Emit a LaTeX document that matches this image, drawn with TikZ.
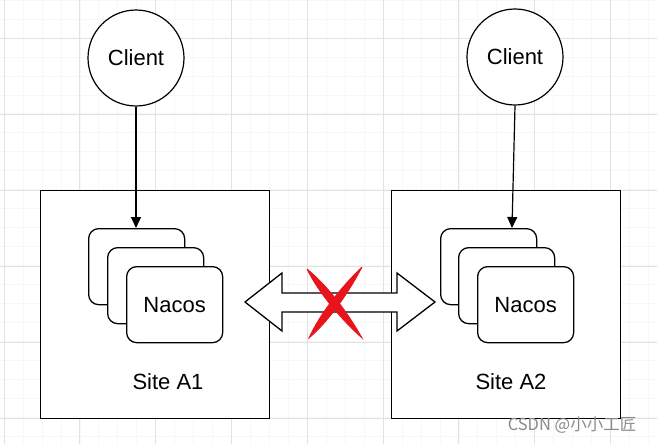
\documentclass[tikz,border=0pt]{standalone}
\usepackage{fontspec}
\setmainfont{Liberation Sans}
\newfontfamily\cjk{Noto Sans CJK SC}
\usetikzlibrary{arrows.meta,calc}
\definecolor{gridmajor}{HTML}{E2E2E2}
\definecolor{gridminor}{HTML}{F7F7F7}
\definecolor{xred}{HTML}{E8141C}
\definecolor{wmark}{HTML}{8A8A8A}
\tikzset{
  client/.style={circle,draw,line width=1.2pt,fill=white,minimum size=96pt,inner sep=0pt,font=\fontsize{22}{24}\selectfont},
  site/.style={draw,line width=1.4pt,fill=white,minimum width=229pt,minimum height=228pt,inner sep=0pt,anchor=north west},
  card/.style={draw,line width=1.3pt,fill=white,rounded corners=10pt,minimum width=96pt,minimum height=76pt,inner sep=0pt,anchor=north west,font=\fontsize{22}{24}\selectfont},
  label/.style={font=\fontsize{22}{24}\selectfont,inner sep=0pt},
  link/.style={line width=1.2pt,-{Triangle[length=11pt,width=10pt]}},
  blockarrow/.style={draw,line width=1.3pt,fill=white,line join=miter},
  cross/.style={fill=xred,draw=xred,line width=0.8pt}
}
\begin{document}
\begin{tikzpicture}[x=1pt,y=-1pt]
\useasboundingbox (0,0) rectangle (657,444);
\fill[white] (0,0) rectangle (657,444);
% grid
\foreach \i in {-9,...,34} {
  \draw[gridminor,line width=0.6pt] ({4+18.95*\i},0) -- ({4+18.95*\i},444);
}
\foreach \j in {-2,...,22} {
  \draw[gridminor,line width=0.6pt] (0,{38+18.95*\j}) -- (657,{38+18.95*\j});
}
\foreach \i in {0,...,8} {
  \draw[gridmajor,line width=0.9pt] ({4+75.8*\i},0) -- ({4+75.8*\i},444);
}
\foreach \j in {0,...,5} {
  \draw[gridmajor,line width=0.9pt] (0,{38+76*\j}) -- (657,{38+76*\j});
}
% sites
\node[site] (siteA1) at (40,190) {};
\node[site] (siteA2) at (391,190) {};
% clients
\node[client] (clientL) at (136,58) {Client};
\node[client] (clientR) at (515,57) {Client};
% cards left
\node[card] (l1) at (88,228) {};
\node[card] (l2) at (107,247) {};
\node[card] (l3) at (126,266) {Nacos};
% cards right
\node[card] (r1) at (440,228) {};
\node[card] (r2) at (458,247) {};
\node[card] (r3) at (477,266) {Nacos};
% labels
\node[label] (lblA1) at (168,382) {Site A1};
\node[label] (lblA2) at (511,382) {Site A2};
% links
\draw[link] (clientL.south) -- (l1.north -| clientL.south);
\coordinate (rtop) at (512,228);
\draw[link] (clientR.south) -- (rtop);
% double block arrow
\draw[blockarrow] (245,302) -- (282,273) -- (282,293) -- (397,293) -- (397,273)
  -- (435,302) -- (397,331) -- (397,312) -- (282,312) -- (282,331) -- cycle;
% red cross
\coordinate (xa) at (307,269);
\coordinate (xb) at (362,338);
\coordinate (xc) at (362,267);
\coordinate (xd) at (309,338);
\fill[cross] (xa) .. controls ($(xa)!0.3!(xb)!6pt!90:(xb)$) and ($(xa)!0.7!(xb)!4.5pt!90:(xb)$) .. (xb)
  .. controls ($(xa)!0.7!(xb)!4.5pt!-90:(xb)$) and ($(xa)!0.3!(xb)!6pt!-90:(xb)$) .. (xa);
\fill[cross] (xc) .. controls ($(xc)!0.3!(xd)!4.5pt!90:(xd)$) and ($(xc)!0.7!(xd)!6pt!90:(xd)$) .. (xd)
  .. controls ($(xc)!0.7!(xd)!6pt!-90:(xd)$) and ($(xc)!0.3!(xd)!4.5pt!-90:(xd)$) .. (xc);
% watermark
\node[inner sep=0pt,text=wmark,font=\cjk\fontsize{16.5}{18}\selectfont] (wm) at (572,425) {CSDN @小小工匠};
\end{tikzpicture}
\end{document}
